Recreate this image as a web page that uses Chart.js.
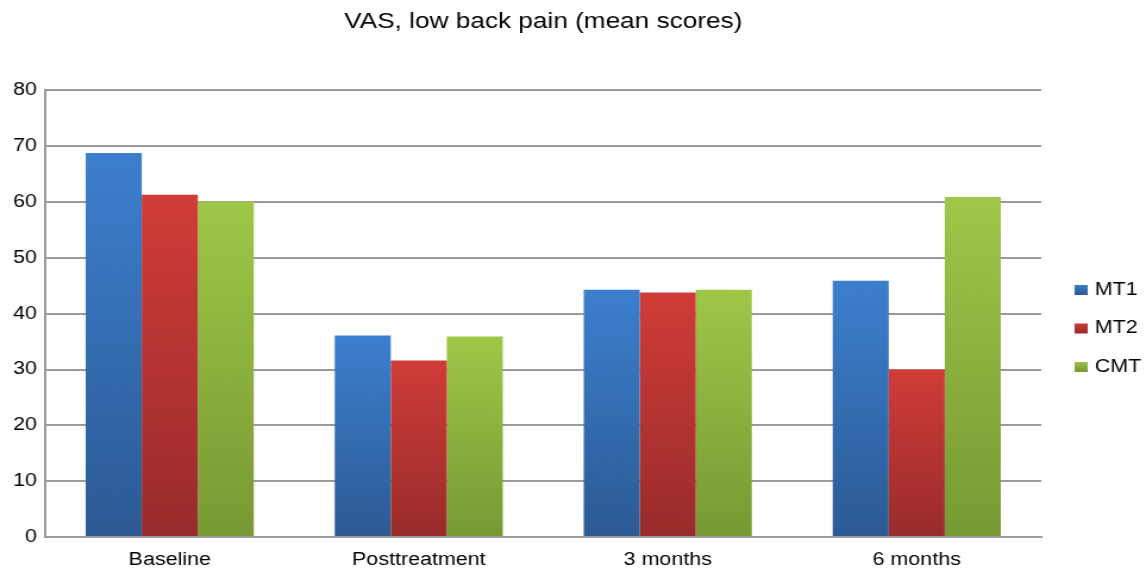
<!DOCTYPE html>
<html>
<head>
<meta charset="utf-8">
<script src="https://cdn.jsdelivr.net/npm/chart.js@4"></script>
<style>
  body { margin: 0; background: #fff; overflow: hidden; }
  /* a figura original está esticada na horizontal (~1.19x) */
  #wrap { width: 963px; height: 568px; position: relative; transform: scaleX(1.19); transform-origin: 0 0; }
</style>
</head>
<body>
<div id="wrap"><canvas id="grafico"></canvas></div>
<script>
// categorias e valores
const categorias = ['Baseline', 'Posttreatment', '3 months', '6 months'];
const valoresMT1 = [68.8, 36.1, 44.3, 45.9];
const valoresMT2 = [61.3, 31.6, 43.8, 30.0];
const valoresCMT = [60.1, 35.9, 44.3, 60.9];
const ticksY = [0, 10, 20, 30, 40, 50, 60, 70, 80];

// cores (topo, base) de cada série
const cores = {
    MT1: ['#3c7fce', '#2c5a94'],
    MT2: ['#d03c38', '#982c2b'],
    CMT: ['#9fc748', '#779934']
};

const fonte = "'Liberation Sans', Arial, sans-serif";

// gradiente vertical por barra, do topo até o zero
function gradiente(topo, base) {
    return function (context) {
        const chart = context.chart;
        if (!chart.chartArea || context.raw === undefined) return topo;
        const y = chart.scales.y;
        const y0 = y.getPixelForValue(0);
        const y1 = y.getPixelForValue(context.raw);
        const g = chart.ctx.createLinearGradient(0, y1, 0, y0);
        g.addColorStop(0, topo);
        g.addColorStop(1, base);
        return g;
    };
}

function serie(nome, dados) {
    return {
        label: nome,
        data: dados,
        backgroundColor: gradiente(cores[nome][0], cores[nome][1]),
        borderWidth: 0,
        barPercentage: 1,
        categoryPercentage: 0.675
    };
}

// legenda desenhada à direita, como no original
const legendaDireita = {
    id: 'legendaDireita',
    afterDraw(chart) {
        const ctx = chart.ctx;
        const x = 903, y0 = 289, passo = 38.5;
        ctx.save();
        ctx.font = '18px ' + fonte;
        ctx.textBaseline = 'middle';
        ctx.textAlign = 'left';
        chart.data.datasets.forEach((ds, i) => {
            const y = y0 + i * passo;
            const g = ctx.createLinearGradient(0, y - 5, 0, y + 6);
            g.addColorStop(0, cores[ds.label][0]);
            g.addColorStop(1, cores[ds.label][1]);
            ctx.fillStyle = g;
            ctx.fillRect(x, y - 4, 11, 10);
            ctx.fillStyle = '#000';
            ctx.fillText(ds.label, x + 17, y + 1);
        });
        ctx.restore();
    }
};

new Chart(document.getElementById('grafico').getContext('2d'), {
    type: 'bar',
    data: {
        labels: categorias,
        datasets: [serie('MT1', valoresMT1), serie('MT2', valoresMT2), serie('CMT', valoresCMT)]
    },
    plugins: [legendaDireita],
    options: {
        responsive: true, maintainAspectRatio: false, animation: false,
        layout: { padding: { left: 4, right: 88, top: 5, bottom: -15 } },
        plugins: {
            title: {
                display: true,
                fullSize: false,
                text: 'VAS, low back pain (mean scores)',
                color: '#000',
                font: { family: fonte, size: 22, weight: 'normal' },
                padding: { top: 4, bottom: 55 }
            },
            legend: { display: false },
            tooltip: { enabled: false }
        },
        scales: {
            x: {
                grid: { display: false, drawTicks: false },
                border: { color: '#9a9a9a', width: 2 },
                ticks: { color: '#000', font: { family: fonte, size: 18, lineHeight: 1 }, padding: 14 }
            },
            y: {
                min: 0, max: 80,
                afterBuildTicks: axis => { axis.ticks = ticksY.map(v => ({ value: v })); },
                grid: { color: '#9a9a9a', lineWidth: 2, drawTicks: false },
                border: { color: '#9a9a9a', width: 2 },
                ticks: { color: '#000', font: { family: fonte, size: 18 }, padding: 7 }
            }
        }
    }
});
</script>
</body>
</html>
